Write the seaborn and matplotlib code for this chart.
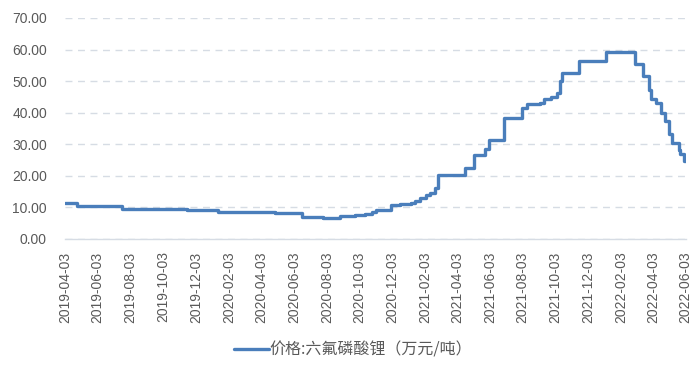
import matplotlib
matplotlib.use("Agg")
import matplotlib.pyplot as plt
import seaborn as sns
import pandas as pd
import numpy as np

dates = [
    "2019-04-03", "2019-04-26", "2019-07-18", "2019-11-16", "2020-01-13",
    "2020-04-29", "2020-06-18", "2020-07-27", "2020-08-28", "2020-09-25",
    "2020-10-14", "2020-10-27", "2020-11-03", "2020-12-01", "2020-12-18",
    "2021-01-06", "2021-01-15", "2021-01-24", "2021-02-03", "2021-02-12",
    "2021-02-21", "2021-02-27", "2021-04-17", "2021-05-05", "2021-05-24",
    "2021-06-02", "2021-06-29", "2021-08-02", "2021-08-12", "2021-09-05",
    "2021-09-11", "2021-09-24", "2021-10-07", "2021-10-11", "2021-10-16",
    "2021-11-16", "2022-01-06", "2022-02-28", "2022-03-15", "2022-03-26",
    "2022-03-30", "2022-04-08", "2022-04-17", "2022-04-25", "2022-05-02",
    "2022-05-08", "2022-05-13", "2022-05-21", "2022-05-24", "2022-05-30",
    "2022-06-03",
]
prices = [
    11.4, 10.5, 9.6, 9.1, 8.5,
    8.2, 7.1, 6.8, 7.3, 7.6,
    8.0, 8.7, 9.3, 10.8, 11.0,
    11.4, 12.0, 13.0, 14.0, 14.5,
    16.3, 20.2, 22.6, 26.5, 28.5,
    31.5, 38.4, 41.6, 42.7, 43.2,
    44.3, 45.1, 46.2, 50.1, 52.6,
    56.5, 59.1, 55.3, 51.5, 47.3,
    44.3, 43.0, 40.0, 37.4, 33.1,
    30.5, 30.5, 28.3, 26.8, 24.6,
    24.6,
]
tick_labels = [
    "2019-04-03", "2019-06-03", "2019-08-03", "2019-10-03", "2019-12-03",
    "2020-02-03", "2020-04-03", "2020-06-03", "2020-08-03", "2020-10-03",
    "2020-12-03", "2021-02-03", "2021-04-03", "2021-06-03", "2021-08-03",
    "2021-10-03", "2021-12-03", "2022-02-03", "2022-04-03", "2022-06-03",
]
series_name = "价格:六氟磷酸锂（万元/吨）"

df = pd.DataFrame({"date": pd.to_datetime(dates), "price": prices})

sns.set_style("white")
plt.rcParams["font.family"] = ["Liberation Sans", "Noto Sans CJK SC", "DejaVu Sans"]

fig = plt.figure(figsize=(6.99, 3.66), dpi=100)
ax = fig.add_axes([0.093, 0.347, 0.888, 0.604])

sns.lineplot(data=df, x="date", y="price", ax=ax, color="#4A7EBB",
             linewidth=2.4, drawstyle="steps-post", label=series_name,
             legend=False)

ax.set_ylim(0, 70)
ax.set_yticks(np.arange(0, 71, 10))
ax.set_yticklabels([f"{v:.2f}" for v in np.arange(0, 71, 10)])
ticks = pd.to_datetime(tick_labels)
ax.set_xlim(ticks[0], ticks[-1])
ax.set_xticks(ticks)
ax.set_xticklabels(tick_labels, rotation=90)

ax.grid(axis="y", linestyle=(0, (5, 4)), color="#D6DCE4", linewidth=1.0)
ax.grid(axis="x", visible=False)
for s in ["top", "right", "left"]:
    ax.spines[s].set_visible(False)
ax.spines["bottom"].set_color("#D6DCE4")
ax.spines["bottom"].set_linewidth(1.0)
ax.tick_params(axis="y", length=0, labelsize=10, labelcolor="#595959", pad=13)
ax.tick_params(axis="x", length=5, width=1, color="#D6DCE4", labelsize=10,
               labelcolor="#595959", direction="out", pad=4)
ax.set_xlabel("")
ax.set_ylabel("")

handles, labels = ax.get_legend_handles_labels()
leg = fig.legend(handles, labels, loc="center", bbox_to_anchor=(0.505, 0.043),
                 frameon=False, handlelength=2.2, handletextpad=0.05,
                 prop={"family": ["Noto Sans CJK SC", "DejaVu Sans"], "size": 11.5})
for t in leg.get_texts():
    t.set_color("#595959")

fig.savefig("out.png", dpi=100)
